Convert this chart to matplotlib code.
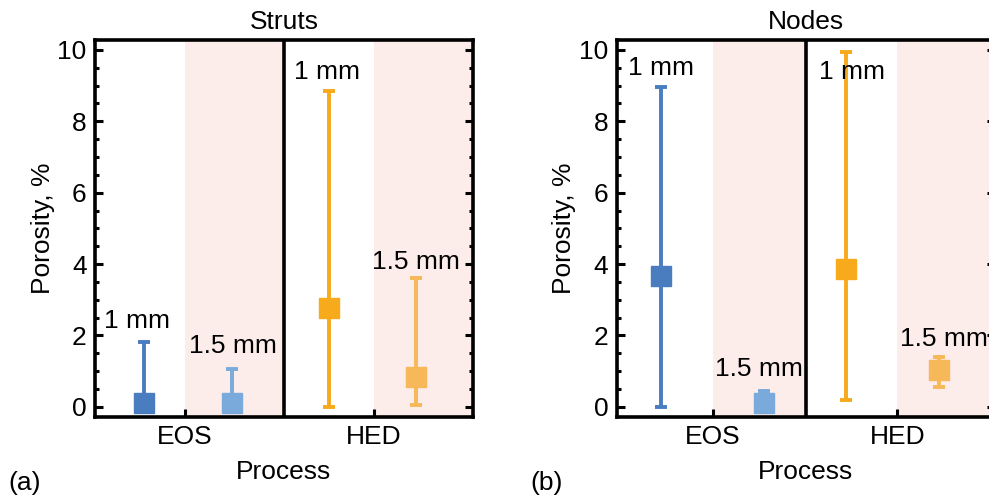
import matplotlib.pyplot as plt
from matplotlib.ticker import MultipleLocator

plt.rcParams['font.family'] = ['Liberation Sans', 'DejaVu Sans']

# porosity (%) : centre, lower end, upper end
sizes = ['1 mm', '1.5 mm', '1 mm', '1.5 mm']
struts_mid = [0.1, 0.1, 2.76, 0.84]
struts_lo = [0.0, 0.0, 0.0, 0.05]
struts_hi = [1.82, 1.06, 8.86, 3.6]
nodes_mid = [3.67, 0.1, 3.86, 1.03]
nodes_lo = [0.0, 0.0, 0.2, 0.56]
nodes_hi = [8.97, 0.44, 9.95, 1.38]
processes = ['EOS', 'HED']

colors = ['#4a7cc0', '#7aaadb', '#f6aa1c', '#f7b85a']
pink = '#fcecea'
fs = 19

W, H = 989, 504
fig = plt.figure(figsize=(W / 100, H / 100), dpi=100)


def panel(left, title, mid, lo, hi, xs, ticks, label_pos, tag):
    ax = fig.add_axes([left / W, (H - 416.7) / H, 378 / W, 376.7 / H])
    ax.set_xlim(0, 4)
    ax.set_ylim(-0.28, 10.28)
    ax.axvspan(ticks[0], 2, color=pink, lw=0, zorder=0)
    ax.axvspan(ticks[1], 4, color=pink, lw=0, zorder=0)
    ax.axvline(2, color='black', lw=2.6, zorder=1)
    for i in range(4):
        yerr = [[mid[i] - lo[i]], [hi[i] - mid[i]]]
        ax.errorbar(xs[i], mid[i], yerr=yerr, fmt='s', color=colors[i],
                    ms=14.5, mec=colors[i], elinewidth=2.8, capsize=4.5,
                    capthick=2.8, zorder=3)
        ax.text(label_pos[i][0], label_pos[i][1], sizes[i], fontsize=fs,
                ha='center', va='center', zorder=4)
    ax.set_xticks(ticks)
    ax.set_xticklabels(processes)
    ax.yaxis.set_major_locator(MultipleLocator(2))
    ax.yaxis.set_minor_locator(MultipleLocator(0.5))
    ax.tick_params(axis='y', which='both', direction='in', right=True,
                   width=2.2, labelsize=fs, pad=6)
    ax.tick_params(axis='y', which='major', length=6)
    ax.tick_params(axis='y', which='minor', length=3)
    ax.tick_params(axis='x', direction='in', length=6, width=2.2,
                   labelsize=fs, pad=6)
    for s in ax.spines.values():
        s.set_linewidth(2.6)
    ax.set_title(title, fontsize=fs, pad=8)
    ax.set_xlabel('Process', fontsize=fs, labelpad=8)
    ax.set_ylabel('Porosity, %', fontsize=fs, labelpad=2)
    fig.text((left - 70) / W, (H - 483) / H, tag, fontsize=fs,
             ha='center', va='center')
    return ax


panel(95, 'Struts', struts_mid, struts_lo, struts_hi,
      [0.52, 1.45, 2.48, 3.4], [0.95, 2.95],
      [(0.44, 2.4), (1.46, 1.7), (2.45, 9.37), (3.4, 4.05)], '(a)')
panel(616.7, 'Nodes', nodes_mid, nodes_lo, nodes_hi,
      [0.47, 1.56, 2.43, 3.41], [1.02, 2.97],
      [(0.47, 9.5), (1.5, 1.05), (2.49, 9.37), (3.46, 1.9)], '(b)')

fig.savefig('out.png', dpi=100)
